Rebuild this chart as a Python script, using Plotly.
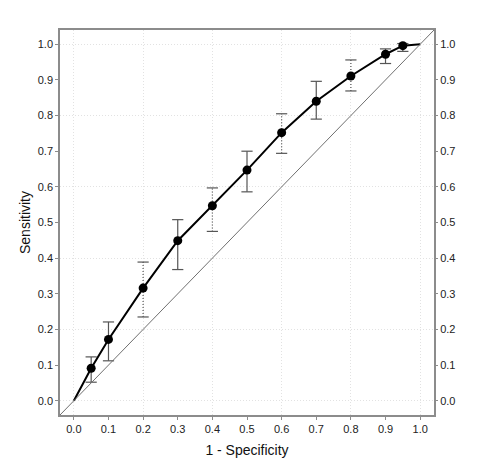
import plotly.graph_objects as go

# Data
fpr = [0.05, 0.1, 0.2, 0.3, 0.4, 0.5, 0.6, 0.7, 0.8, 0.9, 0.95]
sens = [0.091, 0.172, 0.316, 0.449, 0.547, 0.647, 0.752, 0.840, 0.911, 0.972, 0.996]
lower = [0.052, 0.112, 0.235, 0.368, 0.475, 0.586, 0.694, 0.790, 0.869, 0.946, 0.980]
upper = [0.123, 0.221, 0.389, 0.508, 0.597, 0.700, 0.805, 0.896, 0.956, 0.987, 1.002]
dotted = [False, False, True, False, True, False, True, False, True, False, False]
curve_start = (0.0, 0.0)
curve_end = (1.0, 1.0)
tick_vals = [round(i * 0.1, 1) for i in range(11)]
grid_vals = [round(i * 0.2, 1) for i in range(6)]

AX_RANGE = [-0.04, 1.04]
FONT = "Liberation Sans, Arial, sans-serif"
ERR_COLOR = "#555555"
AXIS_COLOR = "#8c8c8c"

fig = go.Figure()

# whiskers
def segs(flag):
    xs, ys = [], []
    for x, lo, hi, d in zip(fpr, lower, upper, dotted):
        if d == flag:
            xs += [x, x, None]
            ys += [lo, hi, None]
    return xs, ys

xs, ys = segs(False)
fig.add_trace(go.Scatter(x=xs, y=ys, mode="lines", line=dict(color=ERR_COLOR, width=1.2),
                         hoverinfo="skip", showlegend=False))
xs, ys = segs(True)
fig.add_trace(go.Scatter(x=xs, y=ys, mode="lines", line=dict(color=ERR_COLOR, width=1.2, dash="1px,2px"),
                         hoverinfo="skip", showlegend=False))
# caps
fig.add_trace(go.Scatter(x=fpr + fpr, y=lower + upper, mode="markers",
                         marker=dict(symbol="line-ew", size=8, line=dict(color=ERR_COLOR, width=1.2)),
                         hoverinfo="skip", showlegend=False))

# ROC curve
fig.add_trace(go.Scatter(x=[curve_start[0]] + fpr + [curve_end[0]],
                         y=[curve_start[1]] + sens + [curve_end[1]],
                         mode="lines", line=dict(color="black", width=2),
                         showlegend=False))
fig.add_trace(go.Scatter(x=fpr, y=sens, mode="markers",
                         marker=dict(color="black", size=9),
                         showlegend=False))

# dummy traces for right labels and grid axes
fig.add_trace(go.Scatter(x=fpr, y=sens, xaxis="x", yaxis="y2", mode="markers",
                         marker=dict(opacity=0), hoverinfo="skip", showlegend=False))
fig.add_trace(go.Scatter(x=fpr, y=sens, xaxis="x2", yaxis="y3", mode="markers",
                         marker=dict(opacity=0), hoverinfo="skip", showlegend=False))

# diagonal reference line (corner to corner of the panel)
fig.add_shape(type="line", xref="paper", yref="paper", x0=0, y0=0, x1=1, y1=1,
              line=dict(color="#707070", width=1), layer="above")

tickfont = dict(family=FONT, size=11, color="#222222")
common = dict(range=AX_RANGE, fixedrange=True, zeroline=False)

fig.update_layout(
    width=482, height=474,
    margin=dict(l=60, r=48, t=30, b=59),
    paper_bgcolor="white", plot_bgcolor="white",
    font=dict(family=FONT, color="#222222"),
    xaxis=dict(**common, tickvals=tick_vals, tickformat=".1f", ticks="outside", ticklen=3,
               tickcolor=AXIS_COLOR, showgrid=False, showline=True, linecolor=AXIS_COLOR,
               linewidth=1.5, mirror=True, tickfont=tickfont,
               title=dict(text="1 - Specificity", font=dict(family=FONT, size=14, color="#111111"),
                          standoff=11)),
    yaxis=dict(**common, tickvals=tick_vals, tickformat=".1f", ticks="outside", ticklen=3,
               tickcolor=AXIS_COLOR, showgrid=False, showline=True, linecolor=AXIS_COLOR,
               linewidth=1.5, mirror=True, tickfont=tickfont,
               title=dict(text="Sensitivity", font=dict(family=FONT, size=14, color="#111111"),
                          standoff=4)),
    yaxis2=dict(**common, overlaying="y", side="right", tickvals=tick_vals, tickformat=".1f",
                ticks="outside", ticklen=3, tickcolor=AXIS_COLOR, showgrid=False,
                showline=False, tickfont=tickfont),
    xaxis2=dict(**common, overlaying="x", tickvals=grid_vals, showticklabels=False, ticks="",
                showgrid=True, gridcolor="#e2e2e2", griddash="1px,2px", gridwidth=1, showline=False),
    yaxis3=dict(**common, overlaying="y", tickvals=grid_vals, showticklabels=False, ticks="",
                showgrid=True, gridcolor="#e2e2e2", griddash="1px,2px", gridwidth=1, showline=False),
)

fig.write_html("out.html")
